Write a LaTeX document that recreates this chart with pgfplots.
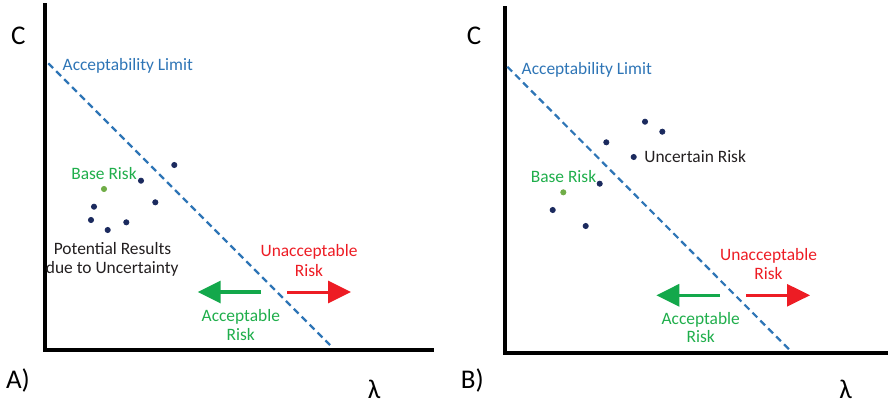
\documentclass[border=0pt]{standalone}
\usepackage{pgfplots}
\pgfplotsset{compat=1.18}
\usepackage{fontspec}
\setmainfont{Carlito}
\usetikzlibrary{arrows.meta}
\definecolor{lblue}{HTML}{2E75B6}
\definecolor{tgreen}{HTML}{1FAE4B}
\definecolor{agreen}{HTML}{13A84B}
\definecolor{bgreen}{HTML}{70AD47}
\definecolor{rred}{HTML}{ED1C24}
\definecolor{navy}{HTML}{1B2A5E}
\definecolor{dtext}{HTML}{231F20}
\newcommand{\T}[4][]{\node[inner sep=0pt,anchor=base,font=\fontsize{8.7}{9}\selectfont,#1] at ({#2*0.5pt},{(403-#3)*0.5pt}) {#4};}
\pgfplotsset{riskax/.style={
  scale only axis, anchor=origin, xmin=0, ymin=0,
  axis lines=left, axis line style={line width=2pt,-,black,line cap=rect},
  xtick=\empty, ytick=\empty, clip=false},
  lim/.style={lblue, line width=1.1pt, dash pattern=on 3.4pt off 2.2pt},
  pts/.style={only marks, mark=*, mark size=1.3pt, navy},
  base/.style={only marks, mark=*, mark size=1.3pt, bgreen},
  garr/.style={agreen, line width=1.7pt, -{Triangle[length=11.5pt,width=11pt]}},
  rarr/.style={rred, line width=1.5pt, -{Triangle[length=11.5pt,width=11pt]}}
}
\begin{document}
\begin{tikzpicture}
\useasboundingbox (0,0) rectangle (444pt,201.5pt);
% Panel A
\begin{axis}[riskax, at={(22.5pt,26.5pt)}, width=193.5pt, height=172.5pt, xmax=387, ymax=345]
\addplot[lim] coordinates {(3.3,286.7) (285,5)};
\addplot[pts] coordinates {(129.3,185) (96,169.3) (110.3,147.7) (49,143.3) (46,130) (62.7,120) (81.3,127.7)};
\addplot[base] coordinates {(59,161)};
\addplot[garr] coordinates {(216,58) (152.7,58)};
\addplot[rarr] coordinates {(242.3,58) (306,58)};
\end{axis}
% Panel B
\begin{axis}[riskax, at={(252.5pt,25pt)}, width=191.5pt, height=172.5pt, xmax=383, ymax=345]
\addplot[lim] coordinates {(2.3,286.3) (284,3.7)};
\addplot[pts] coordinates {(140,231.3) (157.3,221.3) (101.3,210.7) (128.7,196) (94.7,169.3) (47.7,143) (80.7,127)};
\addplot[base] coordinates {(58.3,160.7)};
\addplot[garr] coordinates {(215,57.7) (151.3,57.7)};
\addplot[rarr] coordinates {(241.3,57.7) (305,57.7)};
\end{axis}
% Texts panel A
\T[font=\fontsize{13.5}{15}\selectfont]{18.3}{44}{C}
\T[anchor=base west,lblue]{62.3}{70}{Acceptability\ Limit}
\T[tgreen]{104}{179}{Base Risk}
\T[dtext]{112.5}{254}{Potential Results}
\begin{scope}
\clip (23.4pt,0) rectangle (200pt,201.5pt);
\T[anchor=base east,dtext]{179}{273.3}{due to Uncertainty}
\end{scope}
\T[rred]{309}{256}{Unacceptable}
\T[rred]{309}{276}{Risk}
\T[tgreen]{240.8}{321}{Acceptable}
\T[tgreen]{240.8}{340}{Risk}
\T[font=\fontsize{13.5}{15}\selectfont]{18}{388}{A)}
\T[font=\fontsize{13.5}{15}\selectfont]{374}{398}{λ}
% Texts panel B
\T[font=\fontsize{13.5}{15}\selectfont]{474}{44.3}{C}
\T[anchor=base west,lblue]{521.3}{74}{Acceptability\ Limit}
\T[tgreen]{563.5}{182}{Base Risk}
\T[anchor=base west,dtext]{644}{162.7}{Uncertain Risk}
\T[rred]{768.5}{260}{Unacceptable}
\T[rred]{768.5}{279}{Risk}
\T[tgreen]{700.7}{324.3}{Acceptable}
\T[tgreen]{700.7}{342.7}{Risk}
\T[font=\fontsize{13.5}{15}\selectfont]{472.3}{388}{B)}
\T[font=\fontsize{13.5}{15}\selectfont]{845.7}{398}{λ}
\end{tikzpicture}
\end{document}
